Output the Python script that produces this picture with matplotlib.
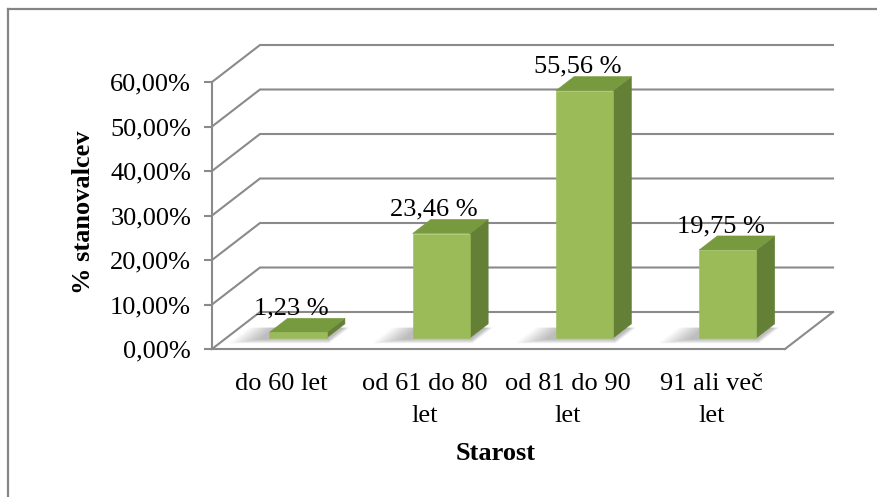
import matplotlib
matplotlib.use("Agg")
import matplotlib.pyplot as plt
from matplotlib.patches import Polygon
from matplotlib.lines import Line2D
from matplotlib.ticker import FixedLocator, FuncFormatter

# ---- data -------------------------------------------------------------
categories = ["do 60 let", "od 61 do 80\nlet", "od 81 do 90\nlet", "91 ali več\nlet"]
shares = [1.23, 23.46, 55.56, 19.75]          # % of residents
y_ticks = [0, 10, 20, 30, 40, 50, 60]
x_title = "Starost"
y_title = "% stanovalcev"

# ---- style ------------------------------------------------------------
plt.rcParams['font.family'] = ['Liberation Serif', 'DejaVu Serif']
FS = 19
GRID = "#8a8a8a"
FRONT = "#9bbb59"
TOP = "#789a3e"
SIDE = "#647f36"

W, H = 877, 497
fig = plt.figure(figsize=(W / 100, H / 100), dpi=100)

# chart frame (only left and top edges fall inside the canvas)
fig.add_artist(Line2D([8 / W, 8 / W], [0, 1 - 9 / H], transform=fig.transFigure,
                      color="#858585", lw=1.6))
fig.add_artist(Line2D([8 / W, 1], [1 - 9 / H, 1 - 9 / H], transform=fig.transFigure,
                      color="#858585", lw=1.6))

# front plane of the 3-D box
ax = fig.add_axes([212 / W, 1 - 349 / H, 573 / W, 267 / H])
ax.set_xlim(0, len(categories))
ax.set_ylim(y_ticks[0], y_ticks[-1])
ax.patch.set_visible(False)

# depth of the box expressed in data units
DX = 48 / 143.25
DY = 37 / 4.45
ncat = len(categories)


def proj(x, y, z):
    return (x + z * DX, y + z * DY)


# back wall gridlines with their side-wall diagonals
for v in y_ticks:
    xs = [0, DX, ncat + DX]
    ys = [v, v + DY, v + DY]
    ax.plot(xs, ys, color=GRID, lw=1.5, clip_on=False, zorder=1,
            solid_joinstyle="miter")
# floor outline: right edge
ax.plot([ncat, ncat + DX], [0, DY], color=GRID, lw=1.5, clip_on=False, zorder=1)

for name in ["top", "right"]:
    ax.spines[name].set_visible(False)
for name in ["left", "bottom"]:
    ax.spines[name].set_color(GRID)
    ax.spines[name].set_linewidth(1.5)
    ax.spines[name].set_zorder(1)

ax.yaxis.set_major_locator(FixedLocator(y_ticks))
ax.yaxis.set_major_formatter(FuncFormatter(lambda v, p: f"{v:.2f}%".replace(".", ",")))
ax.tick_params(axis="y", length=6, width=1.5, color=GRID, labelsize=FS, pad=9)
ax.set_xticks([])

# bars drawn as boxes
HW = 0.2
Z0, Z1 = 0.30, 0.68
for i, v in enumerate(shares):
    xc = i + 0.5
    x0, x1 = xc - HW, xc + HW
    # soft floor shadow, built from many faint layers
    n = 10
    for k in range(n):
        g = 0.012 * (n - k)
        pts = [proj(x0 - 0.04 - g * 1.6, 0, Z0 - 0.03 - g),
               proj(x1 + 0.02 + g * 0.4, 0, Z0 - 0.03 - g),
               proj(x1 + 0.02 + g * 0.4, 0, Z1 - 0.1),
               proj(x0 - 0.04 - g * 1.6, 0, Z1 - 0.1)]
        ax.add_patch(Polygon(pts, closed=True, facecolor="#000000", alpha=0.028,
                             edgecolor="none", zorder=2, clip_on=False))
    front = [proj(x0, 0, Z0), proj(x1, 0, Z0), proj(x1, v, Z0), proj(x0, v, Z0)]
    top = [proj(x0, v, Z0), proj(x1, v, Z0), proj(x1, v, Z1), proj(x0, v, Z1)]
    side = [proj(x1, 0, Z0), proj(x1, 0, Z1), proj(x1, v, Z1), proj(x1, v, Z0)]
    for pts, col in [(side, SIDE), (top, TOP), (front, FRONT)]:
        ax.add_patch(Polygon(pts, closed=True, facecolor=col, edgecolor=col,
                             lw=0.4, zorder=3, clip_on=False))
    lx, ly = proj(xc, v, Z1)
    ax.text(xc + Z0 * DX - 0.05, ly - 0.3, f"{v:.2f} %".replace(".", ","),
            ha="center", va="bottom", fontsize=FS, zorder=4, clip_on=False)

# category labels under the floor
for i, lab in enumerate(categories):
    ax.text(i + 0.5 - 0.015, -5.4, lab, ha="center", va="top", fontsize=FS,
            linespacing=1.58, multialignment="center", clip_on=False)

ax.text(ncat / 2 - 0.02, -23.4, x_title, ha="center", va="center",
        fontsize=FS, fontweight="bold", clip_on=False)
ax.text(-129 / 143.25, (349 - 212) / 4.45, y_title, ha="center", va="center",
        rotation=90, fontsize=FS, fontweight="bold", clip_on=False)

fig.savefig("out.png", dpi=100, facecolor="white")
